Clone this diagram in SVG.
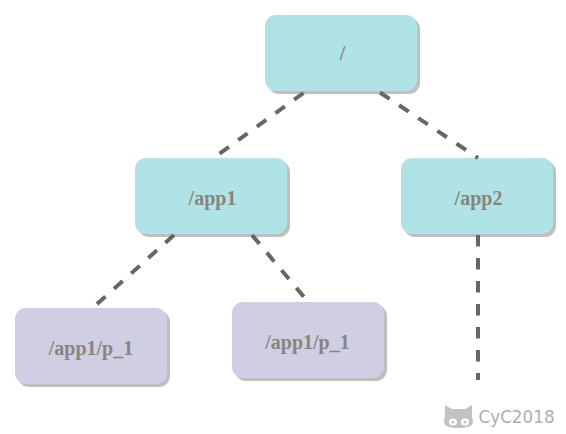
<svg xmlns="http://www.w3.org/2000/svg" width="566" height="434" viewBox="0 0 566 434">
<style>
.box{stroke:none}
.shadow{fill:#bfbfbf}
.teal{fill:#b0e3e6}
.lav{fill:#d0cee2}
.lbl{font-family:"Liberation Serif","Times New Roman",serif;font-weight:bold;font-size:20px;fill:#888580;text-anchor:middle}
.conn{stroke:#666;stroke-width:4;stroke-dasharray:11.5 11.5;fill:none}
</style>
<rect width="566" height="434" fill="#fff"/>
<g id="node-root"><rect class="shadow" x="268" y="18" width="152" height="76" rx="11"/><rect class="box teal" x="265" y="15" width="152" height="76" rx="11"/><text class="lbl" x="342.500" y="60">/</text></g>
<g id="node-app1"><rect class="shadow" x="138" y="161" width="152" height="76" rx="11"/><rect class="box teal" x="135" y="158" width="152" height="76" rx="11"/><text class="lbl" x="212.500" y="205">/app1</text></g>
<g id="node-app2"><rect class="shadow" x="404" y="161" width="152" height="76" rx="11"/><rect class="box teal" x="401" y="158" width="152" height="76" rx="11"/><text class="lbl" x="478.500" y="205">/app2</text></g>
<g id="node-leaf1"><rect class="shadow" x="18" y="311" width="152" height="76" rx="11"/><rect class="box lav" x="15" y="308" width="152" height="76" rx="11"/><text class="lbl" x="91" y="355">/app1/p_1</text></g>
<g id="node-leaf2"><rect class="shadow" x="235" y="305" width="152" height="76" rx="11"/><rect class="box lav" x="232" y="302" width="152" height="76" rx="11"/><text class="lbl" x="307.500" y="349">/app1/p_1</text></g>
<g id="connectors">
<line class="conn" x1="303.500" y1="93" x2="219" y2="154"/>
<line class="conn" x1="380" y1="92.500" x2="478" y2="158"/>
<line class="conn" x1="174" y1="235" x2="97" y2="304"/>
<line class="conn" x1="252" y1="235" x2="304" y2="297"/>
<line class="conn" x1="478" y1="235" x2="478" y2="380"/>
</g>
<g id="watermark">
<path d="M445 405l7 4h13l7-4v12a11 10 0 0 1 1 4c0 6-6 7-14.500 7s-14.500-1-14.500-7a11 10 0 0 1 1-4z" fill="#c2c2c2"/>
<ellipse cx="453" cy="422" rx="4" ry="3.500" fill="#fff"/><ellipse cx="465" cy="422" rx="4" ry="3.500" fill="#fff"/>
<circle cx="453" cy="422" r="1.500" fill="#c2c2c2"/><circle cx="465" cy="422" r="1.500" fill="#c2c2c2"/>
<text x="478.500" y="423" font-family="'DejaVu Sans',sans-serif" font-size="16.800" fill="#aeaeae">CyC2018</text>
</g>
</svg>
